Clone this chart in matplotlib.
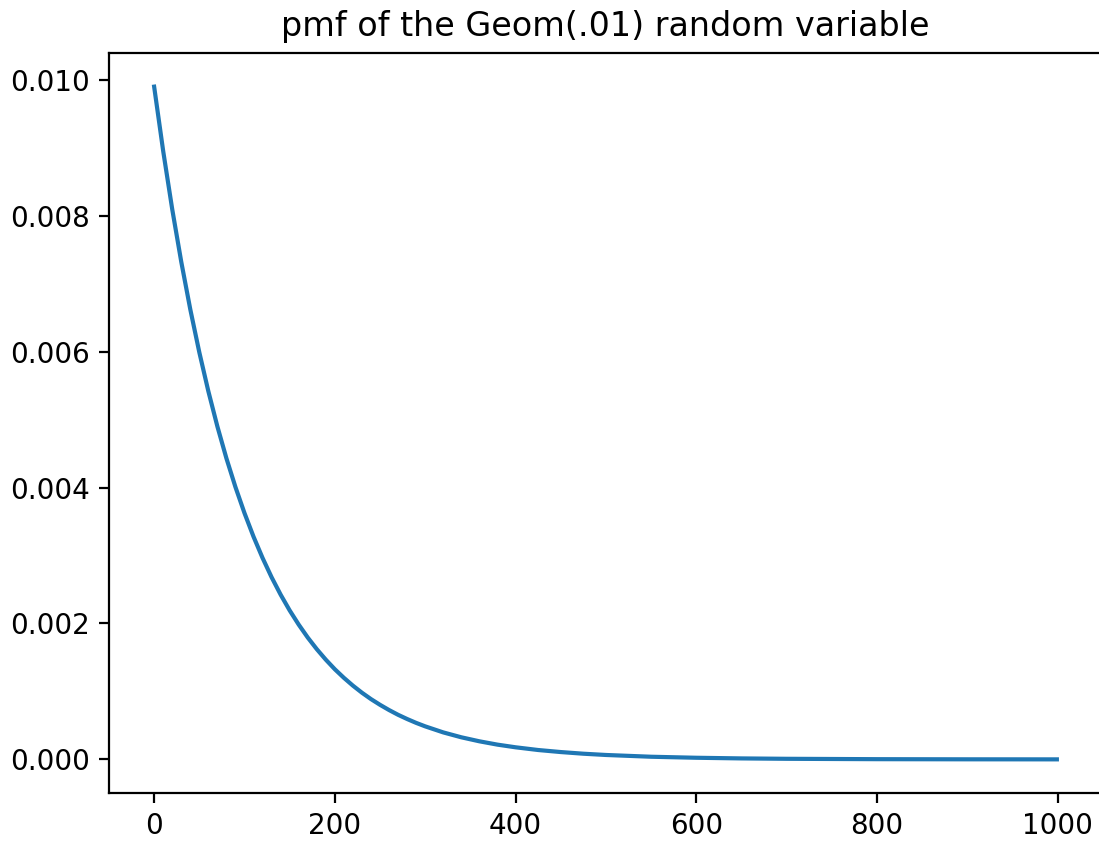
import matplotlib
matplotlib.use("Agg")
import matplotlib.pyplot as plt

# values
k = [0, 10, 20, 30, 40, 50, 60, 70, 80, 90, 100, 110, 120, 130, 140, 150,
     160, 170, 180, 190, 200, 210, 220, 230, 240, 250, 260, 270, 280, 290,
     300, 320, 340, 360, 380, 400, 425, 450, 475, 500, 550, 600, 650, 700,
     800, 900, 999]
pmf = [0.009900, 0.008953, 0.008097, 0.007323, 0.006623, 0.005990, 0.005417,
       0.004899, 0.004430, 0.004007, 0.003624, 0.003277, 0.002964, 0.002680,
       0.002424, 0.002192, 0.001983, 0.001793, 0.001622, 0.001467, 0.001326,
       0.001200, 0.001085, 0.000981, 0.000887, 0.000803, 0.000726, 0.000656,
       0.000594, 0.000537, 0.000486, 0.000397, 0.000325, 0.000266, 0.000217,
       0.000178, 0.000138, 0.000108, 0.0000836, 0.000065, 0.000039,
       0.000024, 0.0000144, 0.0000087, 0.0000032, 0.0000012, 0.00000044]
title = "pmf of the Geom(.01) random variable"

fig = plt.figure(figsize=(5.495, 4.21), dpi=200)
ax = fig.add_axes([109 / 1099, 49 / 842, 993 / 1099, 740 / 842])
ax.plot(k, pmf, color="#1f77b4", lw=1.5)
ax.set_xticks([0, 200, 400, 600, 800, 1000])
ax.set_yticks([0.0, 0.002, 0.004, 0.006, 0.008, 0.010])
ax.set_yticklabels(["0.000", "0.002", "0.004", "0.006", "0.008", "0.010"])
ax.set_title(title)
# the reference is cropped just before the right spine
ax.spines["right"].set_visible(False)

fig.savefig("out.png", dpi=200)
